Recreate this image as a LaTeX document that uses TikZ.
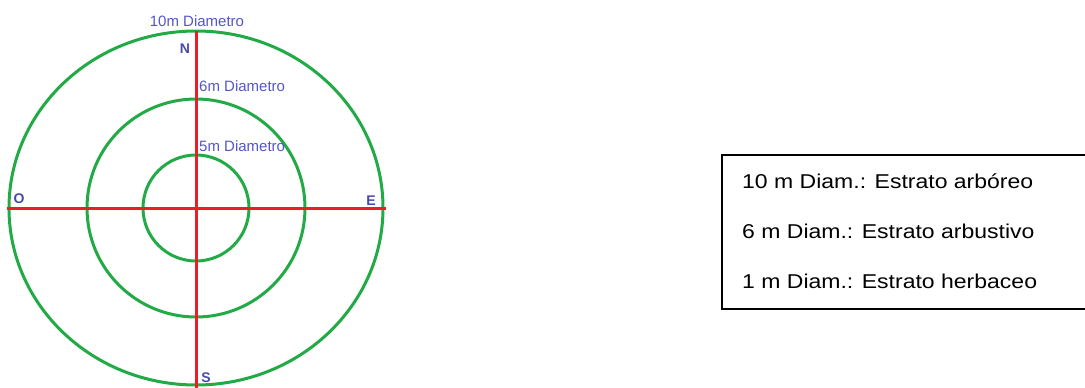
\documentclass[tikz,border=0pt]{standalone}
\usepackage{fontspec}
\setmainfont{Liberation Sans}
\newfontfamily\legendfont[FakeStretch=1.15]{Liberation Sans}
\definecolor{ringgreen}{RGB}{34,170,70}
\definecolor{axisred}{RGB}{235,30,40}
\definecolor{labelblue}{RGB}{85,85,205}

\begin{document}
\begin{tikzpicture}[
    x=1pt,
    y=-1pt,
    ring/.style={draw=ringgreen, line width=3pt},
    axis/.style={draw=axisred, line width=3pt},
    diam/.style={text=labelblue, font=\fontsize{15}{18}\selectfont, inner sep=0pt, anchor=base west},
    point/.style={text=labelblue!85!black, font=\fontsize{14}{17}\selectfont\bfseries, inner sep=0pt, anchor=base},
    legend/.style={draw=black, line width=2pt},
    entry/.style={font=\legendfont\fontsize{20}{24}\selectfont, inner sep=0pt, anchor=base west}
  ]
    \clip (0,0) rectangle (1085,388);
    \fill[white] (0,0) rectangle (1085,388);

    % plot rings
    \coordinate (center) at (196,208);
    \draw[ring] (center) ellipse [x radius=187, y radius=177];
    \draw[ring] (center) circle [radius=109];
    \draw[ring] (center) circle [radius=53];

    % cardinal axes
    \coordinate (north) at (196,31);
    \coordinate (south) at (196,392);
    \coordinate (west) at (7,208);
    \coordinate (east) at (386,208);
    \draw[axis] (west) -- (east);
    \draw[axis] (north) -- (south);

    \node[diam, anchor=base] (d10) at (197,26) {10m Diametro};
    \node[diam] (d6) at (199,91) {6m Diametro};
    \node[diam] (d5) at (199,151) {5m Diametro};

    \node[point] (n) at (185,53) {N};
    \node[point] (s) at (206,382) {S};
    \node[point] (o) at (19,203) {O};
    \node[point] (e) at (371,205) {E};

    % legend
    \draw[legend] (722,155) rectangle (1100,309);
    \node[entry] (arboreo) at (742,188) {10 m Diam.: Estrato arbóreo};
    \node[entry] (arbustivo) at (742,238) {6 m Diam.: Estrato arbustivo};
    \node[entry] (herbaceo) at (742,288) {1 m Diam.: Estrato herbaceo};
  \end{tikzpicture}
\end{document}
